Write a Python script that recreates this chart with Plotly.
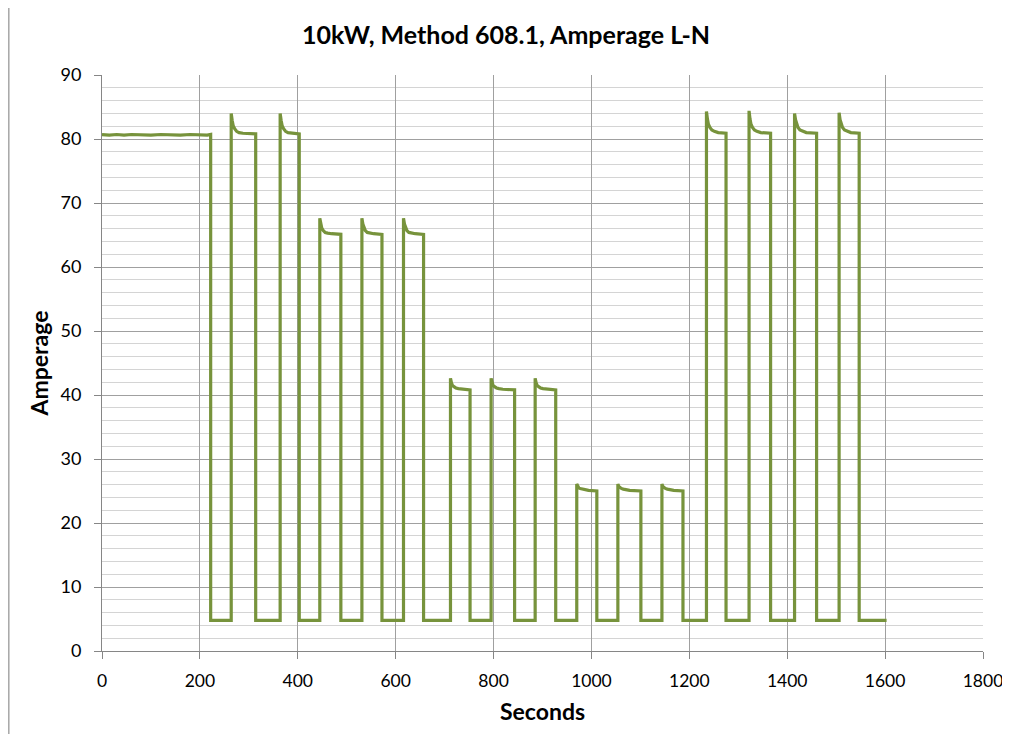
import plotly.graph_objects as go

# ---- data ----
seconds = [
    0, 15, 30, 45, 60, 80, 100, 120, 140, 160, 180, 200, 215, 222, 222,
    264, 264, 266, 268, 271, 275, 280, 288, 314, 314,
    364, 364, 366, 368, 371, 375, 380, 388, 403, 403,
    445, 445, 447, 449, 452, 456, 461, 469, 488, 488,
    531, 531, 533, 535, 538, 542, 547, 555, 572, 572,
    616, 616, 618, 620, 623, 627, 632, 640, 657, 657,
    712, 712, 714, 716, 719, 723, 728, 736, 752, 752,
    795, 795, 797, 799, 802, 806, 811, 819, 843, 843,
    885, 885, 887, 889, 892, 896, 901, 909, 927, 927,
    970, 970, 972, 974, 977, 981, 986, 994, 1011, 1011,
    1054, 1054, 1056, 1058, 1061, 1065, 1070, 1078, 1101, 1101,
    1144, 1144, 1146, 1148, 1151, 1155, 1160, 1168, 1187, 1187,
    1235, 1235, 1237, 1239, 1242, 1246, 1251, 1259, 1275, 1275,
    1322, 1322, 1324, 1326, 1329, 1333, 1338, 1346, 1366, 1366,
    1415, 1415, 1417, 1419, 1422, 1426, 1431, 1439, 1460, 1460,
    1506, 1506, 1508, 1510, 1513, 1517, 1522, 1530, 1547, 1547,
    1603,
]
amperage = [
    80.7, 80.6, 80.7, 80.6, 80.7, 80.6, 80.6, 80.7, 80.6, 80.6, 80.7, 80.6, 80.6, 80.7, 4.8,
    4.8, 84.0, 82.9, 82.1, 81.6, 81.2, 81.0, 80.9, 80.8, 4.8,
    4.8, 84.0, 82.9, 82.1, 81.6, 81.2, 81.0, 80.9, 80.8, 4.8,
    4.8, 67.6, 66.7, 66.1, 65.7, 65.4, 65.3, 65.2, 65.1, 4.8,
    4.8, 67.6, 66.7, 66.1, 65.7, 65.4, 65.3, 65.2, 65.1, 4.8,
    4.8, 67.6, 66.7, 66.1, 65.7, 65.4, 65.3, 65.2, 65.1, 4.8,
    4.8, 42.6, 41.9, 41.5, 41.3, 41.1, 41.0, 40.9, 40.8, 4.8,
    4.8, 42.6, 41.9, 41.5, 41.3, 41.1, 41.0, 40.9, 40.8, 4.8,
    4.8, 42.6, 41.9, 41.5, 41.3, 41.1, 41.0, 40.9, 40.8, 4.8,
    4.8, 26.1, 25.7, 25.5, 25.4, 25.3, 25.2, 25.1, 25.0, 4.8,
    4.8, 26.1, 25.7, 25.5, 25.4, 25.3, 25.2, 25.1, 25.0, 4.8,
    4.8, 26.1, 25.7, 25.5, 25.4, 25.3, 25.2, 25.1, 25.0, 4.8,
    4.8, 84.3, 83.1, 82.3, 81.8, 81.4, 81.2, 81.0, 80.9, 4.8,
    4.8, 84.4, 83.1, 82.3, 81.8, 81.4, 81.2, 81.0, 80.9, 4.8,
    4.8, 84.0, 83.0, 82.3, 81.8, 81.4, 81.2, 81.0, 80.9, 4.8,
    4.8, 84.1, 83.0, 82.3, 81.8, 81.4, 81.2, 81.0, 80.9, 4.8,
    4.8,
]
x_ticks = [0, 200, 400, 600, 800, 1000, 1200, 1400, 1600, 1800]
y_ticks = [0, 10, 20, 30, 40, 50, 60, 70, 80, 90]

FONT = "Lato"
# the page body adds an 8px margin, so the figure is sized to fit inside it
W, H = 994, 726
L, R, T, B = 94, 19, 67, 83
PW, PH = W - L - R, H - T - B

fig = go.Figure()
fig.add_trace(go.Scatter(
    x=seconds, y=amperage, mode="lines",
    line=dict(color="#77933C", width=3.2),
    showlegend=False, hoverinfo="x+y",
))

fig.update_layout(
    width=W, height=H,
    margin=dict(l=L, r=R, t=T, b=B, autoexpand=False),
    paper_bgcolor="white", plot_bgcolor="white",
    font=dict(family=FONT, color="black"),
    title=dict(
        text="<b>10kW, Method 608.1, Amperage L-N</b>",
        x=498 / W, xanchor="center", xref="container",
        y=1 - 27 / H, yanchor="middle", yref="container",
        font=dict(family=FONT, size=25, color="black"),
        automargin=False,
    ),
    xaxis=dict(
        range=[0, 1800], tickvals=x_ticks, automargin=False,
        showgrid=True, gridcolor="#A0A0A0", gridwidth=1,
        showline=True, linecolor="#868686", linewidth=1,
        ticks="outside", ticklen=7, tickcolor="#868686",
        tickfont=dict(family=FONT, size=17.5),
        ticklabelstandoff=7, ticklabeloverflow="allow",
        zeroline=False, mirror=False,
        title=dict(text="<b>Seconds</b>", font=dict(family=FONT, size=23), standoff=13),
    ),
    yaxis=dict(
        range=[0, 90], tickvals=y_ticks, automargin=False,
        showgrid=True, gridcolor="#A0A0A0", gridwidth=1,
        showline=True, linecolor="#868686", linewidth=1,
        ticks="outside", ticklen=7, tickcolor="#868686",
        tickfont=dict(family=FONT, size=18),
        ticklabelstandoff=9,
        zeroline=False,
        minor=dict(dtick=2, showgrid=True, gridcolor="#D4D4D4", gridwidth=1, ticks=""),
        title=dict(text="<b>Amperage</b>", font=dict(family=FONT, size=23), standoff=5),
    ),
)

# outer chart-area border (left edge visible in reference)
fig.add_shape(type="line", xref="paper", yref="paper",
              x0=(0.8 - L) / PW, x1=(0.8 - L) / PW,
              y0=-B / PH, y1=(PH + T) / PH,
              line=dict(color="#A6A6A6", width=1.5))

fig.write_html("out.html")
